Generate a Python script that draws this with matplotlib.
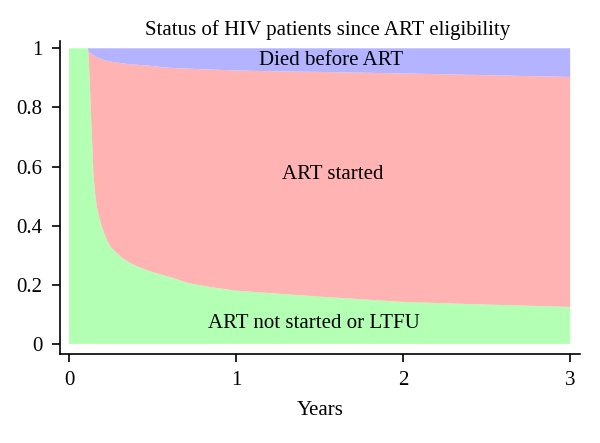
import matplotlib
matplotlib.use("Agg")
import matplotlib.pyplot as plt
import numpy as np

# years since ART eligibility
years = [0, 0.112, 0.118, 0.124, 0.13, 0.138, 0.146, 0.156, 0.166, 0.18, 0.196, 0.21,
         0.226, 0.25, 0.286, 0.32, 0.365, 0.41, 0.465, 0.53, 0.6, 0.72, 0.85,
         1.0, 1.25, 1.5, 2.0, 2.5, 3.0]
# proportion not started / lost to follow-up
not_started = [1.0, 1.0, 0.97, 0.89, 0.80, 0.69, 0.577, 0.51, 0.466, 0.43, 0.398, 0.375,
               0.352, 0.328, 0.307, 0.29, 0.274, 0.262, 0.25, 0.238, 0.227, 0.205, 0.192,
               0.18, 0.17, 0.16, 0.142, 0.133, 0.125]
# proportion died before ART
died = [0.0, 0.0, 0.01, 0.015, 0.018, 0.02, 0.022, 0.027, 0.03, 0.034, 0.037, 0.04,
        0.042, 0.045, 0.048, 0.051, 0.054, 0.056, 0.058, 0.062, 0.066, 0.069, 0.072,
        0.075, 0.078, 0.08, 0.085, 0.091, 0.097]
art_started = [1 - a - b for a, b in zip(not_started, died)]

GREEN = "#b3ffb3"
RED = "#ffb3b3"
BLUE = "#b3b3ff"

plt.rcParams["font.family"] = ["Liberation Serif", "DejaVu Serif"]

fig = plt.figure(figsize=(6, 4.43), dpi=100)
ax = fig.add_axes([0.1, 0.201, 0.867, 0.706])

ax.stackplot(years, not_started, art_started, died,
             colors=[GREEN, RED, BLUE], linewidth=0)

ax.text(1.566, 0.96, "Died before ART", ha="center", va="center", fontsize=15)
ax.text(1.58, 0.573, "ART started", ha="center", va="center", fontsize=15)
ax.text(1.467, 0.07, "ART not started or LTFU", ha="center", va="center", fontsize=15)

ax.set_xlim(-0.054, 3.06)
ax.set_ylim(-0.034, 1.024)
ax.set_xticks([0, 1, 2, 3])
ax.set_xticklabels(["0", "1", "2", "3"])
ax.set_yticks([0, 0.2, 0.4, 0.6, 0.8, 1])
ax.set_yticklabels(["0", "0.2", "0.4", "0.6", "0.8", "1"])
ax.tick_params(labelsize=15, length=6, width=1.2, color="black")
ax.tick_params(axis="x", pad=6)
ax.tick_params(axis="y", pad=6.5)
for s in ["top", "right"]:
    ax.spines[s].set_visible(False)
for s in ["left", "bottom"]:
    ax.spines[s].set_linewidth(1.2)

ax.set_xlabel("Years", fontsize=15, labelpad=8)
fig.text(328 / 600, 1 - 30 / 443, "Status of HIV patients since ART eligibility",
         ha="center", va="center", fontsize=15)

fig.savefig("out.png", dpi=100, facecolor="white")
